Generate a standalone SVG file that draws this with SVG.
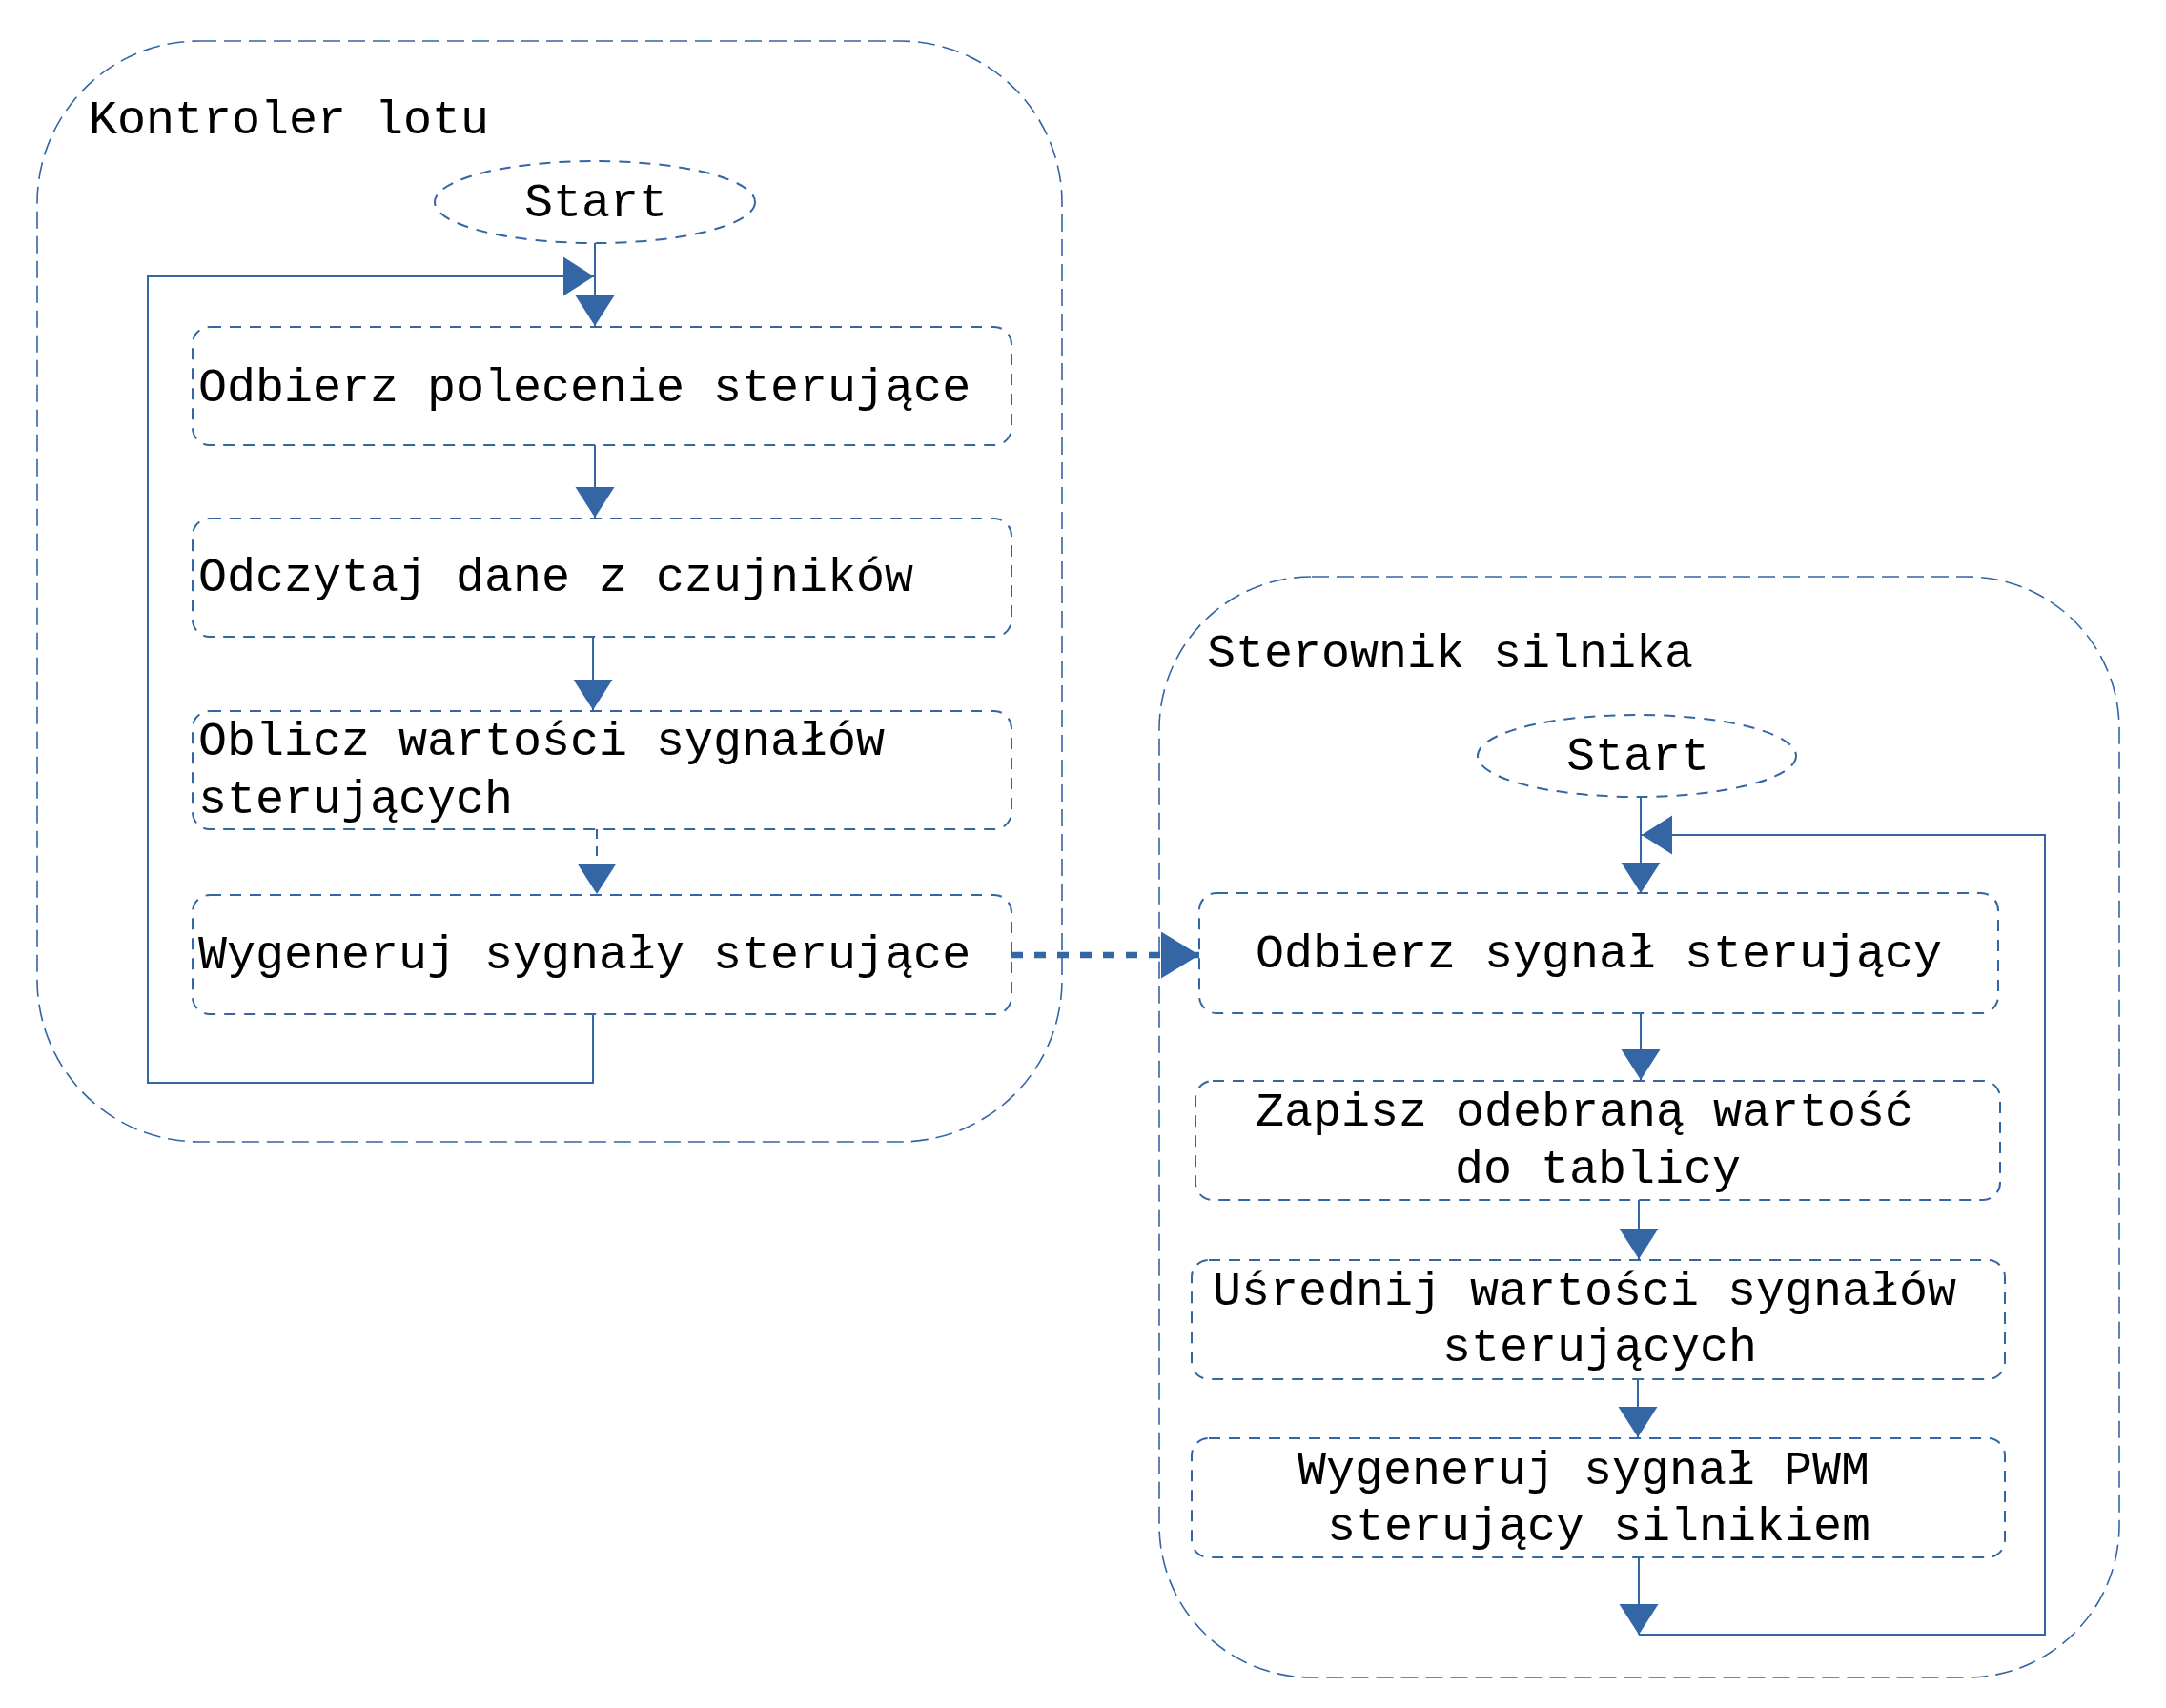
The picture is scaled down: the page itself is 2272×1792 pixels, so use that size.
<svg xmlns="http://www.w3.org/2000/svg" width="2272" height="1792" viewBox="0 0 2272 1792">
<defs>
<style>
.cont{fill:none;stroke:#3465a4;stroke-width:1.6;stroke-dasharray:18 8}
.box{fill:none;stroke:#3465a4;stroke-width:2;stroke-dasharray:12 9}
.con{fill:none;stroke:#3465a4;stroke-width:2}
.dash{stroke-dasharray:10 8}
.dot{fill:none;stroke:#3465a4;stroke-width:6.5;stroke-dasharray:12 12}
text{font-family:"Courier New","Liberation Mono",monospace;font-size:50px;fill:#000}
</style>
<marker id="arr" markerUnits="userSpaceOnUse" markerWidth="33" markerHeight="42" refX="32" refY="20.5" orient="auto" viewBox="0 0 33 42">
<path d="M0,0 L32,20.5 L0,41 Z" fill="#3465a4"/>
</marker>
<marker id="arrBig" markerUnits="userSpaceOnUse" markerWidth="41" markerHeight="50" refX="40" refY="24.5" orient="auto" viewBox="0 0 41 50">
<path d="M0,0 L40,24.5 L0,49 Z" fill="#3465a4"/>
</marker>
</defs>
<rect width="2272" height="1792" fill="#fff"/>

<g id="kontroler">
<rect class="cont" x="39" y="43" width="1075" height="1155" rx="170" ry="170"/>
<text x="93" y="140">Kontroler lotu</text>
</g>
<g id="sterownik">
<rect class="cont" x="1216" y="605" width="1007" height="1155" rx="160" ry="160"/>
<text x="1266" y="700">Sterownik silnika</text>
</g>

<g id="start1">
<ellipse class="box" cx="624" cy="212" rx="168" ry="43"/>
<text x="625" y="227" text-anchor="middle">Start</text>
</g>
<g id="k1">
<rect class="box" x="202" y="343" width="859" height="124" rx="18"/>
<text x="208" y="421">Odbierz polecenie sterujące</text>
</g>
<g id="k2">
<rect class="box" x="202" y="544" width="859" height="124" rx="18"/>
<text x="208" y="620">Odczytaj dane z czujników</text>
</g>
<g id="k3">
<rect class="box" x="202" y="746" width="859" height="124" rx="18"/>
<text x="208" y="792">Oblicz wartości sygnałów</text>
<text x="208" y="853">sterujących</text>
</g>
<g id="k4">
<rect class="box" x="202" y="939" width="859" height="125" rx="18"/>
<text x="208" y="1016">Wygeneruj sygnały sterujące</text>
</g>

<g id="start2">
<ellipse class="box" cx="1717" cy="793" rx="167" ry="43"/>
<text x="1718" y="808" text-anchor="middle">Start</text>
</g>
<g id="s1">
<rect class="box" x="1258" y="937" width="838" height="126" rx="18"/>
<text x="1317" y="1015">Odbierz sygnał sterujący</text>
</g>
<g id="s2">
<rect class="box" x="1254" y="1134" width="844" height="125" rx="18"/>
<text x="1317" y="1181">Zapisz odebraną wartość</text>
<text x="1526" y="1241">do tablicy</text>
</g>
<g id="s3">
<rect class="box" x="1250" y="1322" width="853" height="125" rx="18"/>
<text x="1272" y="1369">Uśrednij wartości sygnałów</text>
<text x="1513" y="1428">sterujących</text>
</g>
<g id="s4">
<rect class="box" x="1250" y="1509" width="853" height="125" rx="18"/>
<text x="1361" y="1557">Wygeneruj sygnał PWM</text>
<text x="1392" y="1616">sterujący silnikiem</text>
</g>

<g id="connectors">
<path class="con" d="M624,255 V342" marker-end="url(#arr)"/>
<path class="con" d="M622,1064 V1136 H155 V290 H623" marker-end="url(#arr)"/>
<path class="con" d="M624,467 V543" marker-end="url(#arr)"/>
<path class="con" d="M622,668 V745" marker-end="url(#arr)"/>
<path class="con dash" d="M626,870 V938" marker-end="url(#arr)"/>
<path class="dot" d="M1061,1002 H1258" marker-end="url(#arrBig)"/>
<path class="con" d="M1721,836 V937" marker-end="url(#arr)"/>
<path class="con" d="M1721,1063 V1133" marker-end="url(#arr)"/>
<path class="con" d="M1719,1259 V1321" marker-end="url(#arr)"/>
<path class="con" d="M1718,1447 V1508" marker-end="url(#arr)"/>
<path class="con" d="M1719,1634 V1715" marker-end="url(#arr)"/>
<path class="con" d="M1719,1715 H2145 V876 H1722" marker-end="url(#arr)"/>
</g>
</svg>
